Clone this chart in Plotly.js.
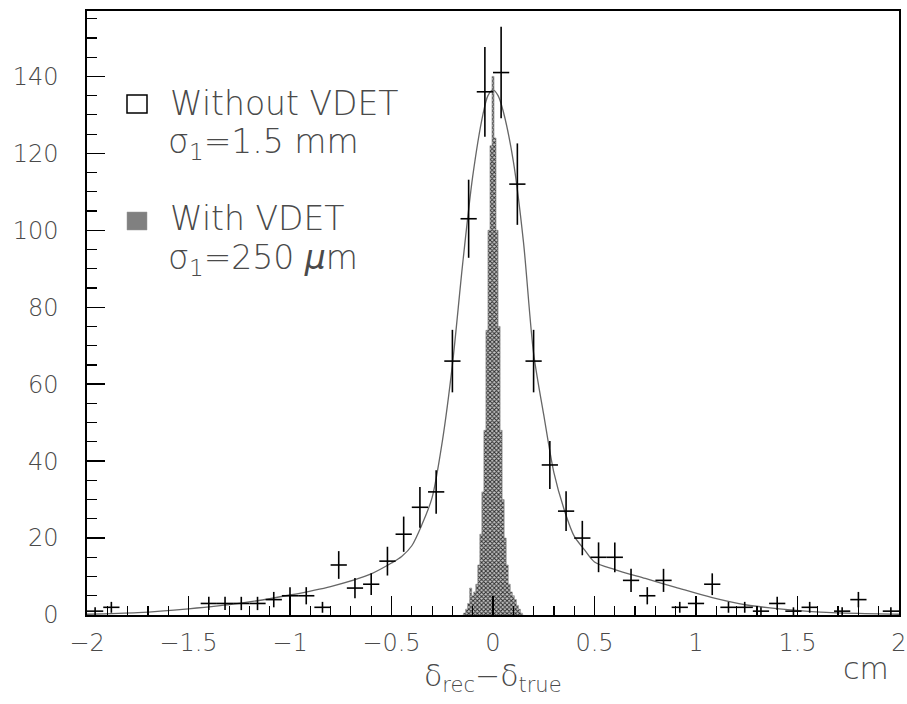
<!DOCTYPE html>
<html>
<head>
<meta charset="utf-8">
<script src="https://cdn.plot.ly/plotly-3.0.1.min.js"></script>
<style>html,body{margin:0;padding:0;background:#fff;}</style>
</head>
<body>
<div id="chart" style="width:907px;height:704px;"></div>
<script>
// "Without VDET" histogram: bin centres (cm) and entries
const binCenters = [-1.96,-1.88,-1.80,-1.72,-1.64,-1.56,-1.48,-1.40,-1.32,-1.24,-1.16,-1.08,-1.00,-0.92,-0.84,-0.76,-0.68,-0.60,-0.52,-0.44,-0.36,-0.28,-0.20,-0.12,-0.04,
                    0.04,0.12,0.20,0.28,0.36,0.44,0.52,0.60,0.68,0.76,0.84,0.92,1.00,1.08,1.16,1.24,1.32,1.40,1.48,1.56,1.64,1.72,1.80,1.88,1.96];
const withoutCounts = [1,2,0,0,0,0,0,3,3,3,3,4,5,5,2,13,7,8,14,21,28,32,66,103,136,
                       141,112,66,39,27,20,15,15,9,5,9,2,3,8,2,2,1,3,1,2,0,1,4,0,1];
const binHalfWidth = 0.04;

// Fitted curve to "Without VDET"
const fitX = [-2.0,-1.75,-1.5,-1.25,-1.0,-0.8,-0.6,-0.5,-0.45,-0.40,-0.35,-0.30,-0.25,-0.20,-0.15,-0.10,-0.05,-0.025,0.0,0.025,0.05,0.10,0.15,0.20,0.25,0.30,0.35,0.40,0.45,0.50,0.60,0.75,0.90,1.08,1.25,1.41,1.57,1.80,2.0];
const fitY = [0.2,0.6,1.6,3.0,5.2,7.4,10.7,13.5,15.2,18.0,23.5,30.5,45,65,91,114,130,135,136.5,135,131,118,97,68,52,37,27.5,20.5,17,13.8,11.8,9.5,7.2,4.5,2.6,1.6,0.9,0.4,0.2];

// "With VDET" narrow histogram: bin centres (cm) and entries
const vdetX = [-0.15,-0.14,-0.13,-0.12,-0.11,-0.10,-0.09,-0.08,-0.07,-0.06,-0.05,-0.04,-0.03,-0.02,-0.01,0.00,
               0.01,0.02,0.03,0.04,0.05,0.06,0.07,0.08,0.09,0.10,0.11,0.12,0.13,0.14,0.15];
const vdetY = [0,0.5,1.5,3,7,5,6,8,13,21,32,48,74,100,122,140,
               124,100,75,48,30,20,13,8,6,5,4,2.5,1.5,0.5,0];

const FONT = 'DejaVu Sans, Liberation Sans, sans-serif';
const TXT = '#4a4a4a';
const W = 200;

const shown = withoutCounts.map(v => v > 0 ? v : null);
const errs = withoutCounts.map(v => Math.sqrt(v));

const traces = [
  {
    type: 'scatter', x: vdetX, y: vdetY, mode: 'lines',
    line: {shape: 'hvh', color: '#888', width: 0.6},
    fill: 'tozeroy', fillcolor: '#888',
    fillpattern: {shape: 'x', fgcolor: '#2e2e2e', bgcolor: '#c8c8c8', size: 3, solidity: 0.55},
    showlegend: false, hoverinfo: 'skip'
  },
  {
    type: 'scatter', x: fitX, y: fitY, mode: 'lines',
    line: {shape: 'spline', smoothing: 0.8, color: '#666', width: 1.3},
    showlegend: false
  },
  {
    type: 'scatter', x: binCenters, y: shown, mode: 'markers',
    marker: {size: 1, color: '#000'},
    error_y: {type: 'data', array: errs, visible: true, color: '#000', thickness: 1.6, width: 0},
    error_x: {type: 'constant', value: binHalfWidth, visible: true, color: '#000', thickness: 1.6, width: 0},
    showlegend: false
  }
];

const L = 87, R = 899, T = 11, B = 615;
function px2x(p){ return (p - L) / (R - L); }
function py2y(p){ return (B - p) / (B - T); }

const layout = {
  width: 907, height: 704,
  margin: {l: L, r: 907 - R, t: T, b: 704 - B, pad: 0},
  paper_bgcolor: '#fff', plot_bgcolor: '#fff',
  showlegend: false,
  font: {family: FONT, color: TXT, weight: W},
  xaxis: {
    range: [-2, 2], tick0: -2, dtick: 0.5,
    ticks: 'inside', ticklen: 19, tickwidth: 1.4, tickcolor: '#000',
    showline: true, linewidth: 1.6, linecolor: '#000', mirror: true,
    showgrid: false, zeroline: false,
    minor: {ticks: 'inside', dtick: 0.1, ticklen: 9, tickwidth: 1.2, tickcolor: '#000', showgrid: false},
    tickfont: {family: FONT, size: 24, color: TXT, weight: W},
    ticklabelstandoff: 6,
    ticklabeloverflow: 'allow'
  },
  yaxis: {
    range: [0, 157], tick0: 0, dtick: 20,
    ticks: 'inside', ticklen: 18, tickwidth: 1.4, tickcolor: '#000',
    showline: true, linewidth: 1.6, linecolor: '#000', mirror: true,
    showgrid: false, zeroline: false,
    minor: {ticks: 'inside', dtick: 5, ticklen: 10, tickwidth: 1.2, tickcolor: '#000', showgrid: false},
    tickfont: {family: FONT, size: 24, color: TXT, weight: W},
    ticklabelstandoff: 22
  },
  shapes: [
    {type: 'rect', xref: 'paper', yref: 'paper', x0: px2x(127), x1: px2x(147), y0: py2y(113), y1: py2y(95),
     line: {color: '#000', width: 1.5}, fillcolor: 'rgba(0,0,0,0)'},
    {type: 'rect', xref: 'paper', yref: 'paper', x0: px2x(127), x1: px2x(147), y0: py2y(230), y1: py2y(212),
     line: {color: '#999', width: 0.5}, fillcolor: '#808080'}
  ],
  annotations: [
    {xref: 'paper', yref: 'paper', x: px2x(168), y: py2y(103), xanchor: 'left', yanchor: 'middle', showarrow: false,
     text: 'Without VDET', font: {family: FONT, size: 33, color: TXT, weight: W}},
    {xref: 'paper', yref: 'paper', x: px2x(166), y: py2y(143), xanchor: 'left', yanchor: 'middle', showarrow: false,
     text: 'σ<sub>1</sub>=1.5 mm', font: {family: FONT, size: 33, color: TXT, weight: W}},
    {xref: 'paper', yref: 'paper', x: px2x(168), y: py2y(218), xanchor: 'left', yanchor: 'middle', showarrow: false,
     text: 'With VDET', font: {family: FONT, size: 33, color: TXT, weight: W}},
    {xref: 'paper', yref: 'paper', x: px2x(166), y: py2y(259), xanchor: 'left', yanchor: 'middle', showarrow: false,
     text: 'σ<sub>1</sub>=250 <i>μ</i>m', font: {family: FONT, size: 33, color: TXT, weight: W}},
    {xref: 'paper', yref: 'paper', x: px2x(493), y: py2y(677), xanchor: 'center', yanchor: 'middle', showarrow: false,
     text: 'δ<sub>rec</sub>−δ<sub>true</sub>', font: {family: FONT, size: 30, color: TXT, weight: W}},
    {xref: 'paper', yref: 'paper', x: px2x(866), y: py2y(668), xanchor: 'center', yanchor: 'middle', showarrow: false,
     text: 'cm', font: {family: FONT, size: 30, color: TXT, weight: W}}
  ]
};

Plotly.newPlot('chart', traces, layout, {staticPlot: true, displayModeBar: false});
</script>
</body>
</html>
